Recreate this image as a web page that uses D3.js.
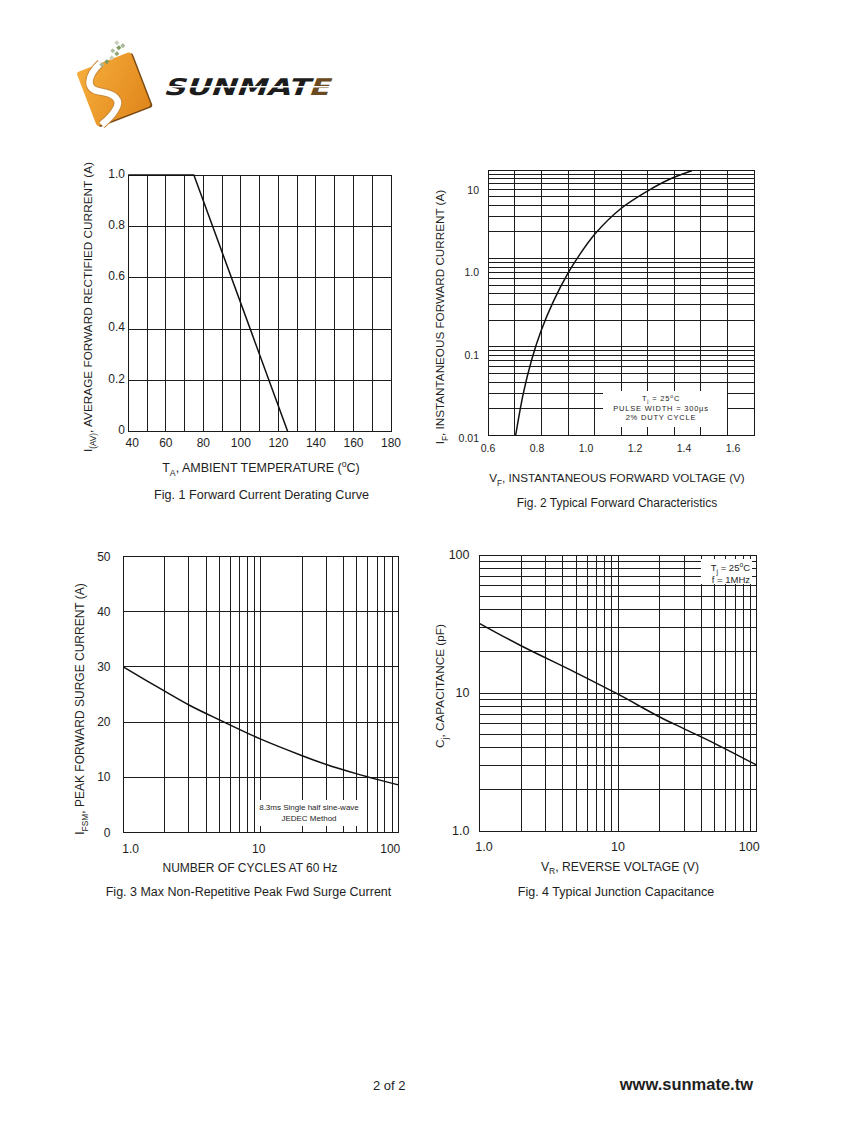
<!DOCTYPE html>
<html lang="en">
<head>
<meta charset="UTF-8">
<title>Sunmate rectifier curves</title>
<script src="https://cdn.jsdelivr.net/npm/d3@7"></script>
<style>
    body { margin: 0; background: #fff; }
    svg text { font-family: "Liberation Sans", Arial, sans-serif; fill: #1e1e1e; }
    .grid line { stroke: #1c1c1c; stroke-width: 1; shape-rendering: crispEdges; }
    .frame { fill: none; stroke: #1a1a1a; stroke-width: 1; shape-rendering: crispEdges; }
    .curve { fill: none; stroke: #111; stroke-width: 1.5; }
</style>
</head>
<body>
<svg id="page" width="847" height="1125"></svg>
<script>
// ---- Fig. 1 forward current derating ----
const fig1Temp = [40, 75, 125];
const fig1Current = [1.0, 1.0, 0];
const fig1XGrid = [40, 50, 60, 70, 80, 90, 100, 110, 120, 130, 140, 150, 160, 170, 180];
const fig1XTicks = [40, 60, 80, 100, 120, 140, 160, 180];
const fig1YTicks = [0, 0.2, 0.4, 0.6, 0.8, 1.0];
const fig1YLabels = ["0", "0.2", "0.4", "0.6", "0.8", "1.0"];

// ---- Fig. 2 forward characteristics ----
const fig2Volt = [0.703, 0.732, 0.763, 0.798, 0.845, 0.901, 0.939, 1.002, 1.096, 1.196, 1.284, 1.366];
const fig2Amp = [0.01, 0.030, 0.071, 0.150, 0.327, 0.69, 1.05, 1.9, 3.6, 5.7, 7.9, 9.8];
const fig2XGrid = [0.6, 0.7, 0.8, 0.9, 1.0, 1.1, 1.2, 1.3, 1.4, 1.5, 1.6];
const fig2XTicks = [0.6, 0.8, 1.0, 1.2, 1.4, 1.6];
const fig2XLabels = ["0.6", "0.8", "1.0", "1.2", "1.4", "1.6"];
const fig2YTicks = [0.01, 0.1, 1, 10];
const fig2YLabels = ["0.01", "0.1", "1.0", "10"];

// ---- Fig. 3 surge current ----
const fig3Cycles = [1, 2, 3, 5, 10, 20, 30, 50, 60, 100];
const fig3Amp = [30, 25.6, 23.1, 20.4, 16.9, 13.9, 12.3, 10.6, 10.05, 8.6];
const fig3XTicks = [1, 10, 100];
const fig3XLabels = ["1.0", "10", "100"];
const fig3YTicks = [0, 10, 20, 30, 40, 50];
const fig3YLabels = ["0", "10", "20", "30", "40", "50"];

// ---- Fig. 4 junction capacitance ----
const fig4Volt = [1, 2, 5, 10, 20, 30, 50, 100];
const fig4Cap = [32, 22, 14, 9.8, 6.7, 5.5, 4.3, 3.0];
const fig4XTicks = [1, 10, 100];
const fig4XLabels = ["1.0", "10", "100"];
const fig4YTicks = [1, 10, 100];
const fig4YLabels = ["1.0", "10", "100"];

const svg = d3.select("#page");

// scales (plot boxes measured off the sheet)
const x1 = d3.scaleLinear().domain([40, 180]).range([128.3, 391]);
const y1 = d3.scaleLinear().domain([0, 1]).range([431.7, 175.3]);

const x2 = d3.scaleLinear().domain([0.6, 1.6]).range([488.3, 754]);
const y2 = d3.scaleLog().domain([0.01, 10]).range([435.3, 170]);
// the printed tick labels on fig 2 don't sit on the grid, they use their own spacing
const x2Lab = d3.scaleLinear().domain([0.6, 1.6]).range([488, 733]);
const y2Lab = d3.scaleLog().domain([0.01, 10]).range([438, 190]);

const x3 = d3.scaleLog().domain([1, 100]).range([123.3, 398.3]);
const y3 = d3.scaleLinear().domain([0, 50]).range([832.3, 556.7]);

const x4 = d3.scaleLog().domain([1, 100]).range([479.3, 756.7]);
const y4 = d3.scaleLog().domain([1, 100]).range([831, 555]);

function grid(x, y, xs, ys) {
    const g = svg.append("g").attr("class", "grid");
    const [xa, xb] = x.range(), [yb, ya] = y.range();
    g.selectAll("line.v").data(xs).join("line").attr("class", "v")
        .attr("x1", d => x(d)).attr("x2", d => x(d)).attr("y1", ya).attr("y2", yb);
    g.selectAll("line.h").data(ys).join("line").attr("class", "h")
        .attr("x1", xa).attr("x2", xb).attr("y1", d => y(d)).attr("y2", d => y(d));
    g.append("rect").attr("class", "frame")
        .attr("x", xa).attr("y", ya).attr("width", xb - xa).attr("height", yb - ya);
}

function yLabels(scale, ticks, labels, xRight, size, dy) {
    svg.append("g").selectAll("text").data(ticks).join("text")
        .attr("x", xRight).attr("y", d => scale(d) + (dy || 0)).attr("dy", "0.35em")
        .attr("text-anchor", "end").attr("font-size", size)
        .text((d, i) => labels[i]);
}

function xLabels(scale, ticks, labels, yBase, size, anchors, dxs) {
    svg.append("g").selectAll("text").data(ticks).join("text")
        .attr("x", (d, i) => scale(d) + (dxs ? dxs[i] : 0)).attr("y", yBase)
        .attr("text-anchor", (d, i) => anchors ? anchors[i] : "middle")
        .attr("font-size", size)
        .text((d, i) => labels[i]);
}

// text with sub/superscript parts: [["I"], ["F","sub"], [", ..."]]
function rich(sel, parts, size) {
    let cur = 0;
    parts.forEach(([t, kind]) => {
        const target = kind === "sub" ? size * 0.3 : kind === "sup" ? -size * 0.4 : 0;
        const ts = sel.append("tspan").text(t).attr("dy", target - cur);
        if (kind) ts.attr("font-size", size * 0.7);
        cur = target;
    });
    return sel;
}

function title(x, y, parts, size, rotate) {
    const t = svg.append("text").attr("font-size", size).attr("text-anchor", "middle");
    if (rotate) t.attr("transform", `translate(${x},${y}) rotate(-90)`);
    else t.attr("x", x).attr("y", y);
    return rich(t, parts, size);
}

function curve(x, y, xs, ys, kind) {
    const line = d3.line().x(d => x(d[0])).y(d => y(d[1])).curve(kind || d3.curveCatmullRom.alpha(0.5));
    return svg.append("path").attr("class", "curve").attr("d", line(d3.zip(xs, ys)));
}

// ---------- logo ----------
const defs = svg.append("defs");
const grad = defs.append("linearGradient").attr("id", "orange")
    .attr("x1", "0").attr("y1", "0").attr("x2", "1").attr("y2", "1");
grad.append("stop").attr("offset", "0").attr("stop-color", "#f6ad3a");
grad.append("stop").attr("offset", "1").attr("stop-color", "#e0861c");

const logo = svg.append("g").attr("transform", "translate(113.7,89.2) rotate(-21)");
logo.append("rect").attr("x", -27.5).attr("y", -27.5).attr("width", 58).attr("height", 58)
    .attr("rx", 3).attr("fill", "#7a4a14");
logo.append("rect").attr("x", -29).attr("y", -29).attr("width", 58).attr("height", 58)
    .attr("rx", 3).attr("fill", "url(#orange)");
const sPath = "M -3,-29 C -20,-22 -27,-10 -14,-3 C -2,4 5,12 -6,20 C -12,25 -19,27 -24,29";
logo.append("path").attr("d", sPath).attr("fill", "none").attr("stroke", "#c98a3a").attr("stroke-width", 8.5);
logo.append("path").attr("d", sPath).attr("fill", "none").attr("stroke", "#fff").attr("stroke-width", 6.5);

const dots = [[100, 63, "#a9b79a"], [105, 60, "#7e9a5e"], [110, 56, "#c9d1bd"], [115, 52, "#8fa774"],
              [111, 49, "#b3c0a2"], [117, 46, "#7e9a5e"], [115, 41, "#c9d1bd"], [121, 44, "#a9b79a"]];
svg.append("g").selectAll("rect").data(dots).join("rect")
    .attr("x", d => d[0]).attr("y", d => d[1]).attr("width", 3.6).attr("height", 3.6)
    .attr("fill", d => d[2]).attr("transform", d => `rotate(45,${d[0] + 1.8},${d[1] + 1.8})`);

const brand = svg.append("g").attr("transform", "translate(163,95) skewX(-20)");
const brandText = brand.append("text").attr("x", 0).attr("y", 0)
    .attr("font-weight", "bold").attr("font-size", 23)
    .attr("textLength", 166).attr("lengthAdjust", "spacingAndGlyphs")
    .style("font-family", "'DejaVu Sans'");
brandText.append("tspan").text("SUNMAT").attr("fill", "#1c1c1c");
brandText.append("tspan").text("E").attr("fill", "#6b4a22");
brand.append("line").attr("x1", -4).attr("x2", 172).attr("y1", -8.3).attr("y2", -8.3)
    .attr("stroke", "#fff").attr("stroke-width", 1.6);

// ---------- Fig. 1 ----------
grid(x1, y1, fig1XGrid, fig1YTicks);
curve(x1, y1, fig1Temp, fig1Current, d3.curveLinear).attr("stroke-width", 1.3);
curve(x1, y1, fig1Temp.slice(0, 2), fig1Current.slice(0, 2), d3.curveLinear).attr("stroke-width", 2.6);
yLabels(y1, fig1YTicks, fig1YLabels, 125, 12, -2);
xLabels(x1, fig1XTicks, fig1XTicks.map(String), 447, 12, null, [4, 0, 0, 0, 0, 0, 0, 0]);
title(92, 307, [["I"], ["(AV)", "sub"], [", AVERAGE FORWARD RECTIFIED CURRENT (A)"]], 11.8, true);
title(261, 472, [["T"], ["A", "sub"], [", AMBIENT TEMPERATURE ("], ["o", "sup"], ["C)"]], 12.5);
title(261.5, 498.5, [["Fig. 1 Forward Current Derating Curve"]], 12.6);

// ---------- Fig. 2 ----------
grid(x2, y2, fig2XGrid, y2.ticks());
svg.append("rect").attr("x", 603).attr("y", 391).attr("width", 124).attr("height", 36).attr("fill", "#fff");
curve(x2, y2, fig2Volt, fig2Amp).attr("stroke-width", 1.6);
const note2 = svg.append("g").attr("text-anchor", "middle").attr("letter-spacing", 0.8);
rich(note2.append("text").attr("x", 661).attr("y", 400.5).attr("font-size", 7.5), [["T"], ["j", "sub"], [" = 25"], ["o", "sup"], ["C"]], 7.5);
note2.append("text").attr("x", 661).attr("y", 410.5).attr("font-size", 7.5).text("PULSE WIDTH = 300µs");
note2.append("text").attr("x", 661).attr("y", 420).attr("font-size", 7.5).text("2% DUTY CYCLE");
yLabels(y2Lab, fig2YTicks, fig2YLabels, 479, 10.5);
xLabels(x2Lab, fig2XTicks, fig2XLabels, 452, 10.5);
title(444, 317, [["I"], ["F", "sub"], [", INSTANTANEOUS FORWARD CURRENT (A)"]], 11.7, true);
title(617, 482, [["V"], ["F", "sub"], [", INSTANTANEOUS FORWARD VOLTAGE (V)"]], 11.7);
title(617, 507, [["Fig. 2 Typical Forward Characteristics"]], 12);

// ---------- Fig. 3 ----------
grid(x3, y3, x3.ticks(), fig3YTicks);
svg.append("rect").attr("x", 257).attr("y", 800).attr("width", 108).attr("height", 26).attr("fill", "#fff");
curve(x3, y3, fig3Cycles, fig3Amp).attr("stroke-width", 1.6);
svg.append("text").attr("x", 309).attr("y", 810).attr("font-size", 8).attr("text-anchor", "middle")
    .text("8.3ms Single half sine-wave");
svg.append("text").attr("x", 309).attr("y", 821).attr("font-size", 8).attr("text-anchor", "middle")
    .text("JEDEC Method");
yLabels(y3, fig3YTicks, fig3YLabels, 110.5, 12);
xLabels(x3, fig3XTicks, fig3XLabels, 853, 12, ["start", "middle", "end"], [-1, -2, 2]);
title(84, 709, [["I"], ["FSM", "sub"], [", PEAK FORWARD SURGE CURRENT (A)"]], 12, true);
title(250, 872, [["NUMBER OF CYCLES AT 60 Hz"]], 12);
title(248.5, 895.5, [["Fig. 3  Max Non-Repetitive Peak Fwd Surge Current"]], 12.5);

// ---------- Fig. 4 ----------
grid(x4, y4, x4.ticks(), y4.ticks());
svg.append("rect").attr("x", 701).attr("y", 559).attr("width", 51).attr("height", 25).attr("fill", "#fff");
curve(x4, y4, fig4Volt, fig4Cap).attr("stroke-width", 1.6);
rich(svg.append("text").attr("x", 750).attr("y", 571).attr("font-size", 9.5).attr("text-anchor", "end"),
    [["T"], ["j", "sub"], [" = 25"], ["o", "sup"], ["C"]], 9.5);
svg.append("text").attr("x", 750).attr("y", 582.5).attr("font-size", 9.5).attr("text-anchor", "end")
    .text("f = 1MHz");
yLabels(y4, fig4YTicks, fig4YLabels, 469.5, 12.5);
xLabels(x4, fig4XTicks, fig4XLabels, 851, 12.5, ["start", "middle", "end"], [-4, 0, 3]);
title(444, 686, [["C"], ["j", "sub"], [", CAPACITANCE (pF)"]], 11.8, true);
title(620, 870.5, [["V"], ["R", "sub"], [", REVERSE VOLTAGE (V)"]], 12.2);
title(616, 895.5, [["Fig. 4 Typical Junction Capacitance"]], 12.5);

// ---------- footer ----------
svg.append("text").attr("x", 373).attr("y", 1090).attr("font-size", 13).text("2 of 2");
svg.append("text").attr("x", 753).attr("y", 1090).attr("font-size", 16.5).attr("font-weight", "bold")
    .attr("text-anchor", "end").text("www.sunmate.tw");
</script>
</body>
</html>
